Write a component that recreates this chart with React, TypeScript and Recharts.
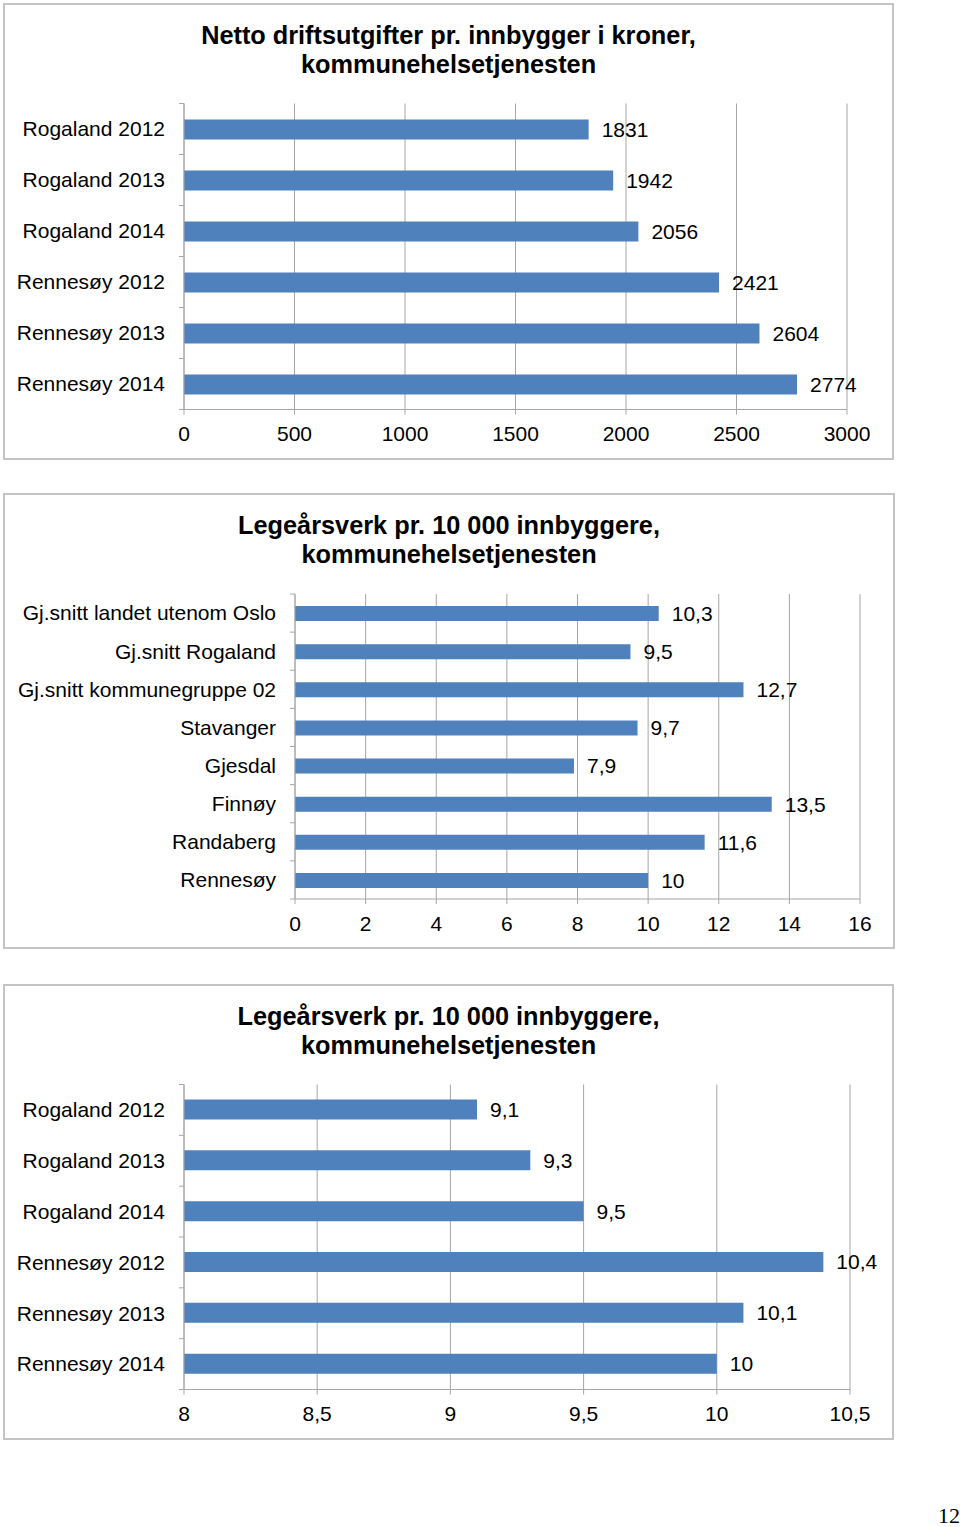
import React from 'react';
import { BarChart, Bar, XAxis, YAxis, CartesianGrid, LabelList } from 'recharts';

const costCategories = ['Rogaland 2012', 'Rogaland 2013', 'Rogaland 2014', 'Rennesøy 2012', 'Rennesøy 2013', 'Rennesøy 2014'];
const costValues = [1831, 1942, 2056, 2421, 2604, 2774];
const costTicks = [0, 500, 1000, 1500, 2000, 2500, 3000];

const doctorCategories = [
  'Gj.snitt landet utenom Oslo',
  'Gj.snitt Rogaland',
  'Gj.snitt kommunegruppe 02',
  'Stavanger',
  'Gjesdal',
  'Finnøy',
  'Randaberg',
  'Rennesøy',
];
const doctorValues = [10.3, 9.5, 12.7, 9.7, 7.9, 13.5, 11.6, 10];
const doctorTicks = [0, 2, 4, 6, 8, 10, 12, 14, 16];

const trendCategories = ['Rogaland 2012', 'Rogaland 2013', 'Rogaland 2014', 'Rennesøy 2012', 'Rennesøy 2013', 'Rennesøy 2014'];
const trendValues = [9.1, 9.3, 9.5, 10.4, 10.1, 10];
const trendTicks = [8, 8.5, 9, 9.5, 10, 10.5];

const FONT = '"Liberation Sans", Arial, sans-serif';
const GRID = '#a6a6a6';
const BAR = '#4f81bd';

const fmt = (v: any) => String(v).replace('.', ',');

type PanelProps = {
  box: { left: number; top: number; width: number; height: number };
  title: string[];
  titleTop: number;
  categories: string[];
  values: number[];
  ticks: number[];
  chartTop: number;
  chartHeight: number;
  plot: { left: number; right: number; top: number; bottom: number };
  barSize: number;
};

function Panel({ box, title, titleTop, categories, values, ticks, chartTop, chartHeight, plot, barSize }: PanelProps) {
  const data = categories.map((name, i) => ({ name, value: values[i] }));
  const yWidth = plot.left - 14;
  const band = (plot.bottom - plot.top) / categories.length;
  const xHeight = 30;

  const renderCategoryTick = (p: any) => {
    const last = p.index === categories.length - 1;
    return (
      <g>
        <text x={plot.left - 19} y={p.y} dy="0.35em" textAnchor="end" fontSize={21} fill="#000" fontFamily={FONT}>
          {p.payload.value}
        </text>
        <line x1={plot.left - 5} x2={plot.left} y1={p.y - band / 2} y2={p.y - band / 2} stroke={GRID} />
        {last && <line x1={plot.left - 5} x2={plot.left} y1={p.y + band / 2} y2={p.y + band / 2} stroke={GRID} />}
      </g>
    );
  };

  return (
    <>
      <div
        style={{
          position: 'absolute',
          left: box.left,
          top: box.top,
          width: box.width,
          height: box.height,
          border: '2px solid #c4c4c4',
          boxSizing: 'border-box',
        }}
      />
      <div
        style={{
          position: 'absolute',
          left: box.left,
          top: titleTop,
          width: box.width,
          textAlign: 'center',
          fontFamily: FONT,
          fontWeight: 'bold',
          fontSize: 25.3,
          lineHeight: '29px',
          color: '#000',
        }}
      >
        {title.map((t) => (
          <div key={t}>{t}</div>
        ))}
      </div>
      <div style={{ position: 'absolute', left: 0, top: chartTop }}>
        <BarChart
          width={960}
          height={chartHeight}
          data={data}
          layout="vertical"
          margin={{
            top: plot.top - chartTop,
            bottom: chartTop + chartHeight - plot.bottom - xHeight,
            left: 14,
            right: 960 - plot.right,
          }}
        >
          <CartesianGrid horizontal={false} stroke={GRID} />
          <XAxis
            type="number"
            domain={[ticks[0], ticks[ticks.length - 1]]}
            ticks={ticks}
            interval={0}
            height={xHeight}
            tickFormatter={fmt}
            tickSize={5}
            tickMargin={12}
            stroke={GRID}
            tick={{ fill: '#000', fontSize: 21, fontFamily: FONT }}
          />
          <YAxis
            type="category"
            dataKey="name"
            width={yWidth}
            interval={0}
            tickLine={false}
            stroke={GRID}
            tick={renderCategoryTick}
          />
          <Bar dataKey="value" fill={BAR} barSize={barSize} isAnimationActive={false}>
            <LabelList
              dataKey="value"
              position="right"
              offset={13}
              formatter={fmt}
              fill="#000"
              fontSize={21}
              fontFamily={FONT}
            />
          </Bar>
        </BarChart>
      </div>
    </>
  );
}

export default function App() {
  return (
    <div style={{ position: 'absolute', left: 0, top: 0, width: 960, height: 1527, background: '#fff', fontFamily: FONT }}>
      <Panel
        box={{ left: 3, top: 3, width: 891, height: 457 }}
        title={['Netto driftsutgifter pr. innbygger i kroner,', 'kommunehelsetjenesten']}
        titleTop={20.5}
        categories={costCategories}
        values={costValues}
        ticks={costTicks}
        chartTop={0}
        chartHeight={470}
        plot={{ left: 184, right: 847, top: 103.5, bottom: 409.5 }}
        barSize={20}
      />
      <Panel
        box={{ left: 3, top: 493, width: 892, height: 456 }}
        title={['Legeårsverk pr. 10 000 innbyggere,', 'kommunehelsetjenesten']}
        titleTop={510.5}
        categories={doctorCategories}
        values={doctorValues}
        ticks={doctorTicks}
        chartTop={480}
        chartHeight={480}
        plot={{ left: 295, right: 860, top: 594, bottom: 899 }}
        barSize={15}
      />
      <Panel
        box={{ left: 3, top: 984, width: 891, height: 456 }}
        title={['Legeårsverk pr. 10 000 innbyggere,', 'kommunehelsetjenesten']}
        titleTop={1001.5}
        categories={trendCategories}
        values={trendValues}
        ticks={trendTicks}
        chartTop={970}
        chartHeight={480}
        plot={{ left: 184, right: 850, top: 1084.5, bottom: 1389.5 }}
        barSize={20}
      />
      <div
        style={{
          position: 'absolute',
          left: 938,
          top: 1503,
          fontFamily: '"Liberation Serif", "Times New Roman", serif',
          fontSize: 22,
          color: '#000',
        }}
      >
        12
      </div>
    </div>
  );
}
